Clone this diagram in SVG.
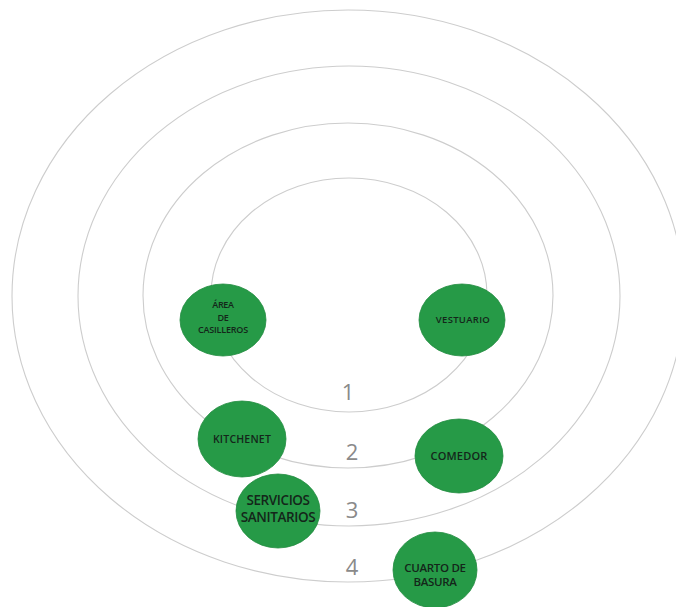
<svg xmlns="http://www.w3.org/2000/svg" width="676" height="607" viewBox="0 0 676 607">
<style>
.ring{fill:none;stroke:#cdcdcd;stroke-width:1.1}
.node{fill:#269a47;stroke:#1f8a3d;stroke-width:0.8}
.lbl{font-family:"Open Sans","Liberation Sans",sans-serif;fill:#14261a;text-anchor:middle;font-weight:600}
.num{font-family:"Open Sans","Liberation Sans",sans-serif;fill:#8a8a8a;font-size:22px;text-anchor:middle}
</style>
<rect width="676" height="607" fill="#ffffff"/>
<g id="rings">
<ellipse class="ring" cx="348" cy="296" rx="336" ry="286"/>
<ellipse class="ring" cx="349" cy="296" rx="271" ry="230"/>
<ellipse class="ring" cx="348" cy="295.5" rx="205" ry="172.5"/>
<ellipse class="ring" cx="349" cy="295" rx="138" ry="117"/>
</g>
<g id="numbers">
<text class="num" x="348" y="400">1</text>
<text class="num" x="352" y="460">2</text>
<text class="num" x="352" y="518">3</text>
<text class="num" x="352" y="575">4</text>
</g>
<g id="connectors"></g>
<g id="area-casilleros">
<ellipse class="node" cx="223" cy="320" rx="43" ry="36"/>
<text class="lbl" font-size="9" x="223" y="308" letter-spacing="-0.3">ÁREA</text>
<text class="lbl" font-size="9" x="223" y="320.5" letter-spacing="-0.3">DE</text>
<text class="lbl" font-size="9" x="223" y="333" letter-spacing="-0.2">CASILLEROS</text>
</g>
<g id="vestuario">
<ellipse class="node" cx="462" cy="320" rx="43" ry="36"/>
<text class="lbl" font-size="9.5" x="463" y="323" letter-spacing="0.3">VESTUARIO</text>
</g>
<g id="kitchenet">
<ellipse class="node" cx="242" cy="439" rx="44" ry="38"/>
<text class="lbl" font-size="10.5" x="242" y="443" letter-spacing="0.2">KITCHENET</text>
</g>
<g id="comedor">
<ellipse class="node" cx="459" cy="456" rx="44" ry="37"/>
<text class="lbl" font-size="11" x="459" y="460" letter-spacing="0.2">COMEDOR</text>
</g>
<g id="servicios-sanitarios">
<ellipse class="node" cx="278" cy="511" rx="42" ry="37"/>
<text class="lbl" font-size="13.5" x="278" y="505" letter-spacing="-0.4" font-weight="500">SERVICIOS</text>
<text class="lbl" font-size="13.5" x="278" y="522" letter-spacing="-0.4" font-weight="500">SANITARIOS</text>
</g>
<g id="cuarto-basura">
<ellipse class="node" cx="435" cy="570" rx="42" ry="38"/>
<text class="lbl" font-size="11.5" x="435" y="572" letter-spacing="-0.3" font-weight="500">CUARTO DE</text>
<text class="lbl" font-size="11.5" x="435" y="586" letter-spacing="-0.3" font-weight="500">BASURA</text>
</g>
</svg>
